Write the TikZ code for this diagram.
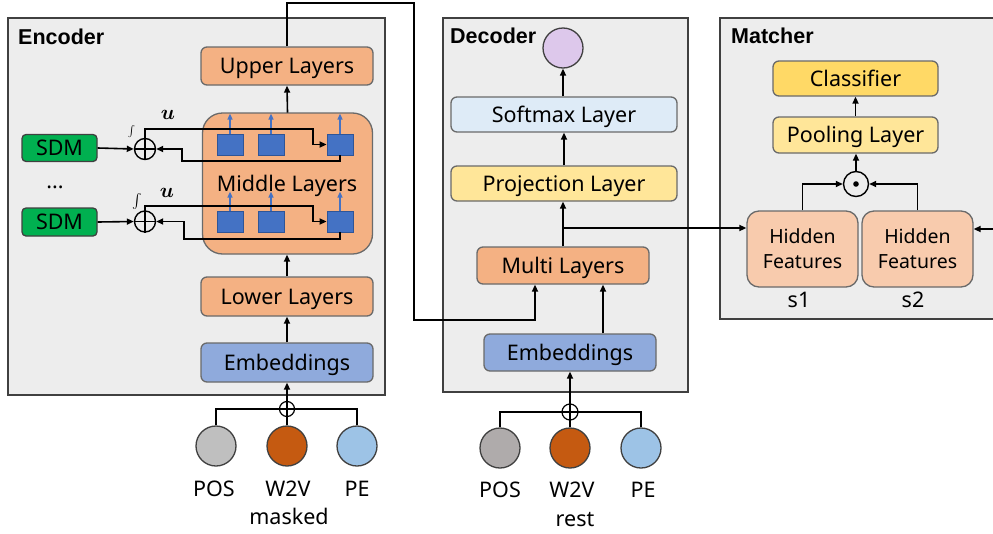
\documentclass[tikz,border=0pt]{standalone}
\usepackage{fontspec}
\setmainfont{Noto Sans}
\newfontfamily\titlefont{Liberation Sans}
\usepackage{exscale}
\usepackage{bm}
\usetikzlibrary{arrows.meta}
\definecolor{bggray}{HTML}{EDEDED}
\definecolor{panelgray}{HTML}{404040}
\definecolor{boxgray}{HTML}{6A6A6A}
\definecolor{orangeL}{HTML}{F4B183}
\definecolor{blueemb}{HTML}{8FAADC}
\definecolor{softblue}{HTML}{DEEBF7}
\definecolor{yellowL}{HTML}{FFE699}
\definecolor{yellowD}{HTML}{FFD966}
\definecolor{hidden}{HTML}{F8CBAD}
\definecolor{sdmgreen}{HTML}{00B050}
\definecolor{sqblue}{HTML}{4472C4}
\definecolor{sqborder}{HTML}{2F5597}
\definecolor{purpleL}{HTML}{DDC8EB}
\definecolor{posA}{HTML}{BFBFBF}
\definecolor{posB}{HTML}{AFABAB}
\definecolor{w2v}{HTML}{C55A11}
\definecolor{pe}{HTML}{9DC3E6}
\begin{document}
\begin{tikzpicture}[x=1pt,y=-1pt,
  font=\fontsize{21.5}{25}\selectfont,
  panel/.style={draw=panelgray, line width=1.3pt, fill=bggray},
  layer/.style={draw=boxgray, line width=1.3pt, rounded corners=6pt, inner sep=0pt, text height=15.4pt, text depth=0pt},
  title/.style={anchor=base west, inner sep=0pt, font=\titlefont\bfseries\fontsize{21.5}{24}\selectfont},
  arr/.style={-{Triangle[length=7pt,width=6pt]}, line width=1.6pt},
  ln/.style={line width=1.6pt},
  barr/.style={-{Triangle[length=6pt,width=5pt]}, line width=1.3pt, draw=sqblue},
  sq/.style={draw=sqborder, line width=0.8pt, fill=sqblue, minimum width=26pt, minimum height=21pt, inner sep=0pt},
  inc/.style={circle, draw=panelgray, line width=1.3pt, minimum size=40pt, inner sep=0pt},
  opc/.style={circle, draw=black, line width=1.4pt, inner sep=0pt},
  lbl/.style={inner sep=0pt, anchor=base}
]
\useasboundingbox (0,0) rectangle (993,533);
\fill[white] (0,0) rectangle (993,533);

% panels
\draw[panel] (8,18) rectangle (385,395);
\draw[panel] (443,18) rectangle (688,392);
\draw[panel] (720,18) rectangle (1000,319);
\node[title] (enct) at (18,44) {Encoder};
\node[title] (dect) at (450,43) {Decoder};
\node[title] (matt) at (731,43) {Matcher};

% ---------- Encoder ----------
\node[layer, fill=orangeL, minimum width=172pt, minimum height=38pt] (upper) at (287,66) {Upper Layers};
\node[layer, fill=orangeL, rounded corners=20pt, minimum width=170pt, minimum height=141pt] (middle) at (287.5,183.5) {};
\node[lbl] (midt) at (287,191) {Middle Layers};
\node[layer, fill=orangeL, minimum width=172pt, minimum height=39pt] (lower) at (287,296.5) {Lower Layers};
\node[layer, fill=blueemb, minimum width=172pt, minimum height=39pt] (encemb) at (287,362.5) {Embeddings};

\node[sq] (s1a) at (230,144.5) {};
\node[sq] (s2a) at (271,144.5) {};
\node[sq] (s3a) at (340,144.5) {};
\node[sq] (s1b) at (230,221.5) {};
\node[sq] (s2b) at (271,221.5) {};
\node[sq] (s3b) at (340,221.5) {};
\foreach \s in {s1a,s2a,s3a}{\draw[barr] (\s.north) -- ++(0,-20);}
\foreach \s in {s1b,s2b,s3b}{\draw[barr] (\s.north) -- ++(0,-19);}

\node[layer, fill=sdmgreen, draw=panelgray, rounded corners=4pt, minimum width=75pt, minimum height=27pt] (sdm1) at (59.5,148) {SDM};
\node[layer, fill=sdmgreen, draw=panelgray, rounded corners=4pt, minimum width=75pt, minimum height=28pt] (sdm2) at (59.5,222) {SDM};
\node[lbl] (dots) at (55,188) {...};

\node[opc, minimum size=21pt] (p1) at (145,149) {};
\draw[line width=1.4pt] (p1.north) -- (p1.south) (p1.west) -- (p1.east);
\node[opc, minimum size=21pt] (p2) at (145,221.5) {};
\draw[line width=1.4pt] (p2.north) -- (p2.south) (p2.west) -- (p2.east);

\node[inner sep=0pt, font=\fontsize{11}{11}\selectfont] (int1) at (131.5,131.5) {$\int$};
\node[inner sep=0pt, font=\fontsize{15}{15}\selectfont] (int2) at (137.5,201) {$\int$};
\node[inner sep=0pt, font=\fontsize{21}{21}\selectfont] (u1) at (168,115) {$\bm{u}$};
\node[inner sep=0pt, font=\fontsize{21}{21}\selectfont] (u2) at (167,193) {$\bm{u}$};

\draw[arr] (sdm1.east) -- (p1.west);
\draw[arr] (sdm2.east) -- (p2.west);
\draw[arr] (p1.north) |- (313,129) |- (s3a.west);
\draw[arr] (s3a.south) |- (182,161) |- (p1.east);
\draw[arr] (p2.north) |- (313,206) |- (s3b.west);
\draw[arr] (s3b.south) |- (184,239) |- (p2.east);

\draw[arr] (middle.north |- upper.south) ++(0,27) -- (upper.south);
\draw[arr] (lower.north) -- (lower.north |- middle.south);
\draw[arr] (encemb.north) -- (lower.south);

\node[inc, fill=posA] (pos1) at (216,446) {};
\node[inc, fill=w2v] (w2v1) at (287,446) {};
\node[inc, fill=pe] (pe1) at (357,446) {};
\node[opc, minimum size=15pt, line width=1.2pt] (ep) at (287,409) {};
\draw[line width=1.2pt] (ep.north) -- (ep.south) (ep.west) -- (ep.east);
\draw[ln] (pos1.north) |- (ep.west);
\draw[ln] (pe1.north) |- (ep.east);
\draw[ln] (w2v1.north) -- (ep.south);
\draw[arr] (ep.north) -- (encemb.south);
\node[lbl] (pos1t) at (214,496) {POS};
\node[lbl] (w2v1t) at (288,496) {W2V};
\node[lbl] (pe1t) at (357,496) {PE};
\node[lbl] (maskt) at (289,524) {masked};

% ---------- Decoder ----------
\node[circle, draw=panelgray, line width=1.3pt, fill=purpleL, minimum size=40pt, inner sep=0pt] (outc) at (563,48) {};
\node[layer, fill=softblue, minimum width=226pt, minimum height=35pt] (softmax) at (564,114.5) {Softmax Layer};
\node[layer, fill=yellowL, minimum width=226pt, minimum height=35pt] (proj) at (564,183.5) {Projection Layer};
\node[layer, fill=orangeL, minimum width=172pt, minimum height=37pt] (multi) at (563,265.5) {Multi Layers};
\node[layer, fill=blueemb, minimum width=172pt, minimum height=37pt] (decemb) at (570,352.5) {Embeddings};

\draw[arr] (softmax.north -| outc.south) -- (outc.south);
\draw[arr] (multi.north) -- (multi.north |- proj.south);
\draw[arr] (proj.north) -- (softmax.south);
\coordinate (br) at (563,228);
\draw[arr] ([xshift=33pt]decemb.north) -- ([xshift=33pt]decemb.north |- multi.south);
\draw[arr] (upper.north) |- (414,3) -- (414,320) -| ([xshift=-28pt]multi.south);

\node[inc, fill=posB] (pos2) at (500,448) {};
\node[inc, fill=w2v] (w2v2) at (570,448) {};
\node[inc, fill=pe] (pe2) at (641,448) {};
\node[opc, minimum size=16pt, line width=1.2pt] (dp) at (570,412) {};
\draw[line width=1.2pt] (dp.north) -- (dp.south) (dp.west) -- (dp.east);
\draw[ln] (pos2.north) |- (dp.west);
\draw[ln] (pe2.north) |- (dp.east);
\draw[ln] (w2v2.north) -- (dp.south);
\draw[arr] (dp.north) -- (decemb.south);
\node[lbl] (pos2t) at (500,497) {POS};
\node[lbl] (w2v2t) at (572,497) {W2V};
\node[lbl] (pe2t) at (643,497) {PE};
\node[lbl] (restt) at (575,526) {rest};

% ---------- Matcher ----------
\node[layer, fill=yellowD, minimum width=165pt, minimum height=35pt] (cls) at (855.5,78.5) {Classifier};
\node[layer, fill=yellowL, minimum width=165pt, minimum height=36pt] (pool) at (855.5,135) {Pooling Layer};
\node[opc, minimum size=25pt] (od) at (856,184) {};
\fill (od.center) circle (2.8pt);
\node[draw=boxgray, line width=1.3pt, inner sep=0pt, fill=hidden, rounded corners=12pt, minimum width=111pt, minimum height=76pt, align=center, font=\fontsize{19.5}{25}\selectfont] (hf1) at (802.5,249) {Hidden\\Features};
\node[draw=boxgray, line width=1.3pt, inner sep=0pt, fill=hidden, rounded corners=12pt, minimum width=111pt, minimum height=76pt, align=center, font=\fontsize{19.5}{25}\selectfont] (hf2) at (917.5,249) {Hidden\\Features};
\node[lbl] (s1t) at (799,307) {s1};
\node[lbl] (s2t) at (913,307) {s2};

\draw[arr] (pool.north) -- (cls.south);
\draw[arr] (od.north) -- (od.north |- pool.south);
\draw[arr] (hf1.north) |- (od.west);
\draw[arr] (hf2.north) |- (od.east);
\draw[arr] (br) -- (hf1.west |- br);
\coordinate (rin) at (996,229);
\draw[arr] (rin) -- (hf2.east |- rin);
\end{tikzpicture}
\end{document}
